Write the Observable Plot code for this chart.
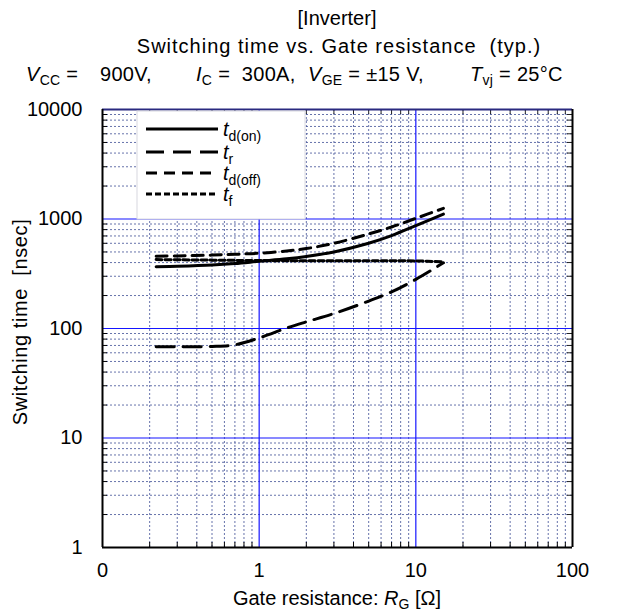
<!DOCTYPE html>
<html><head><meta charset="utf-8">
<script src="https://cdn.jsdelivr.net/npm/d3@7"></script>
<script src="https://cdn.jsdelivr.net/npm/@observablehq/plot@0.6"></script>
<style>
body{margin:0;background:#fff;}
#chart svg{font-family:"Liberation Sans",Arial,sans-serif;}
</style>
</head><body><div id="chart"></div>
<script>
// ---- data ----
const rg    = [0.22, 0.3, 0.5, 0.7, 1, 1.5, 2, 3, 5, 7, 10, 15];
const tdOn  = [366, 370, 380, 392, 411, 433, 455, 500, 600, 705, 870, 1110];
const tR    = [68, 68, 68.5, 71, 82, 101, 115, 137, 178, 216, 281, 398];
const tdOff = [457, 460, 468, 476, 487, 510, 537, 600, 730, 845, 1014, 1250];
const tF    = [426, 424, 421, 419, 417, 416, 416, 416, 416, 416, 414, 407];
const seriesNames = ["t_d(on)", "t_r", "t_d(off)", "t_f"];
const seriesSub = ["d(on)", "r", "d(off)", "f"];
const xTicks = [0.1, 1, 10, 100];
const xTickLabels = ["0", "1", "10", "100"];
const yTicks = [1, 10, 100, 1000, 10000];
const yTickLabels = ["1", "10", "100", "1000", "10000"];

const dashes = ["none", "18,9", "11,7", "6,3"];
const seriesVals = [tdOn, tR, tdOff, tF];
const table = [];
seriesVals.forEach((vals, s) => vals.forEach((v, i) => table.push({series: seriesNames[s], rg: rg[i], t: v})));

// minor grid positions (2..9 × decade)
const minorX = [], minorY = [];
for (const d of [0.1, 1, 10]) for (let k = 2; k <= 9; k++) minorX.push(+(d * k).toPrecision(3));
for (const d of [1, 10, 100, 1000]) for (let k = 2; k <= 9; k++) minorY.push(+(d * k).toPrecision(3));

const W = 619, H = 614, mL = 102, mR = 47, mT = 109, mB = 67;
const pw = W - mL - mR, ph = H - mT - mB;
const gridMinor = {stroke: "#4b5b9c", strokeWidth: 1, strokeDasharray: "2,2", strokeOpacity: 0.85};
const gridMajor = {stroke: "#1515ff", strokeWidth: 1.2};

const lineMarks = seriesNames.map((nm, s) =>
  Plot.line(table.filter(d => d.series === nm), {
    x: "rg", y: "t", stroke: "black", strokeWidth: 3,
    strokeDasharray: dashes[s], curve: "catmull-rom"
  }));

const plot = Plot.plot({
  width: W, height: H,
  marginLeft: mL, marginRight: mR, marginTop: mT, marginBottom: mB,
  style: {fontFamily: "Liberation Sans, Arial, sans-serif", fontSize: "20px", background: "white", color: "black"},
  x: {type: "log", domain: [0.1, 100]},
  y: {type: "log", domain: [1, 10000]},
  marks: [
    Plot.ruleX(minorX, gridMinor),
    Plot.ruleY(minorY, gridMinor),
    Plot.ruleX(xTicks.slice(1, 3), gridMajor),
    Plot.ruleY(yTicks.slice(1, 4), gridMajor),
    // small inward ticks
    Plot.ruleX(minorX, {stroke: "black", insetTop: ph - 5}),
    Plot.ruleX(minorX, {stroke: "#222", insetBottom: ph - 5}),
    Plot.ruleY(minorY, {stroke: "black", insetRight: pw - 5}),
    Plot.ruleY(minorY, {stroke: "#222", insetLeft: pw - 5}),
    // frame
    Plot.ruleY([10000], {stroke: "#2a2a80", strokeWidth: 2}),
    Plot.ruleY([1], {stroke: "black", strokeWidth: 2}),
    Plot.ruleX([0.1], {stroke: "black", strokeWidth: 2}),
    Plot.ruleX([100], {stroke: "black", strokeWidth: 2}),
    Plot.axisX({ticks: xTicks, tickFormat: d => xTickLabels[xTicks.indexOf(d)], tickSize: 0, tickPadding: 15, label: null, fontSize: 20}),
    Plot.axisY({ticks: yTicks, tickFormat: d => yTickLabels[yTicks.indexOf(d)], tickSize: 0, tickPadding: 20, label: null, fontSize: 20}),
    ...lineMarks
  ]
});
document.getElementById("chart").appendChild(plot);

// ---- text and legend added on top ----
const svg = d3.select(plot);
const g = svg.append("g").attr("font-family", "Liberation Sans, Arial, sans-serif").attr("fill", "black")
  .attr("text-anchor", "start").attr("font-size", 20);

g.append("text").attr("x", 337).attr("y", 25).attr("text-anchor", "middle").text("[Inverter]");
g.append("text").attr("x", 339).attr("y", 53).attr("text-anchor", "middle").attr("letter-spacing", 1)
  .text("Switching time vs. Gate resistance\u00a0\u00a0(typ.)");

function cond(x, main, sub, rest) {
  const t = g.append("text").attr("x", x).attr("y", 81).attr("letter-spacing", 0.3);
  t.append("tspan").attr("font-style", "italic").text(main);
  t.append("tspan").attr("font-size", 14).attr("dy", 4).text(sub);
  t.append("tspan").attr("dy", -4).text(rest);
}
cond(26, "V", "CC", " =");
g.append("text").attr("x", 100).attr("y", 81).attr("letter-spacing", 0.3).text("900V,");
cond(196, "I", "C", " =  300A,");
cond(308, "V", "GE", " = \u00b115 V,");
cond(470, "T", "vj", " = 25\u00b0C");

// axis titles
g.append("text").attr("transform", "translate(27,322) rotate(-90)").attr("text-anchor", "middle")
  .attr("letter-spacing", 0.6).text("Switching time\u00a0\u00a0[nsec]");
const xl = g.append("text").attr("x", 337).attr("y", 605).attr("text-anchor", "middle");
xl.append("tspan").text("Gate resistance: ");
xl.append("tspan").attr("font-style", "italic").text("R");
xl.append("tspan").attr("font-size", 14).attr("dy", 4).text("G");
xl.append("tspan").attr("dy", -4).text(" [\u03a9]");

// legend
const lg = svg.append("g").attr("text-anchor", "start");
lg.append("rect").attr("x", 137).attr("y", 111).attr("width", 168).attr("height", 108)
  .attr("fill", "white").attr("stroke", "#d8d8e0").attr("stroke-width", 1);
const ly = [129, 152, 173, 194];
seriesNames.forEach((nm, s) => {
  lg.append("line").attr("x1", 146).attr("x2", 218).attr("y1", ly[s]).attr("y2", ly[s])
    .attr("stroke", "black").attr("stroke-width", 3).attr("stroke-dasharray", dashes[s]);
  const t = lg.append("text").attr("x", 223).attr("y", ly[s] + 7).attr("font-size", 20)
    .attr("font-family", "Liberation Sans, Arial, sans-serif");
  t.append("tspan").attr("font-style", "italic").text("t");
  t.append("tspan").attr("font-size", 14).attr("dy", 5).text(seriesSub[s]);
});
</script>
</body></html>
